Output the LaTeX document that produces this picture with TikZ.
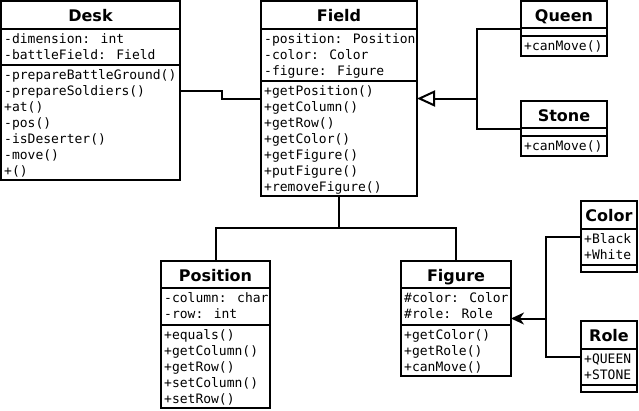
\documentclass[tikz,border=0pt]{standalone}
\usepackage{fontspec}
\setmainfont{DejaVu Sans}
\newfontfamily\umlmono{DejaVu Sans Mono}
\usetikzlibrary{arrows.meta}

\tikzset{
  line/.style={line width=2pt, draw=black},
  classbox/.style={draw=black, line width=2pt, rectangle, inner sep=0pt, outer sep=0pt, anchor=north west},
  classtitle/.style={font=\fontsize{16}{16}\selectfont\bfseries, anchor=base, inner sep=0pt},
  classrow/.style={font=\umlmono\fontsize{13}{16}\selectfont, anchor=base west, inner sep=0pt},
  inherit/.style={line, -{Triangle[open, length=18pt, width=16pt, fill=white]}},
  assoc/.style={line, -{Stealth[length=13pt, width=12pt, inset=4pt]}},
}

% class frame: name, x1, y1, x2, y2, title
\newcommand\umlframe[6]{%
  \node[classbox, minimum width={#4-#2}, minimum height={#5-#3}] (#1) at (#2,#3) {};
  \node[classtitle] (#1-title) at ({(#2+#4)/2}, #3+20) {#6};
}
% compartment separator: x1, x2, y
\newcommand\umlsep[3]{\draw[line] (#1,#3) -- (#2,#3);}
% rows of a compartment: prefix, x, first baseline, list
\newcommand\umlrows[4]{%
  \foreach \txt [count=\k from 0] in {#4}
    \node[classrow] (#1-\k) at (#2, {#3+16*\k}) {\txt};
}

\begin{document}
\begin{tikzpicture}[x=1pt, y=-1pt]
  \path[fill=white, use as bounding box] (0,0) rectangle (639,410);

  % Desk
  \umlframe{desk}{1}{1}{180}{180}{Desk}
  \umlsep{1}{180}{29}
  \umlsep{1}{180}{65}
  \umlrows{desk-a}{4}{43.5}{-dimension: int,-battleField: Field}
  \umlrows{desk-m}{4}{79.5}{-prepareBattleGround(),-prepareSoldiers(),+at(),-pos(),-isDeserter(),-move(),+()}

  % Field
  \umlframe{field}{261}{1}{417}{196}{Field}
  \umlsep{261}{417}{29}
  \umlsep{261}{417}{81}
  \umlrows{field-a}{264}{43.5}{-position: Position,-color: Color,-figure: Figure}
  \umlrows{field-m}{264}{95}{+getPosition(),+getColumn(),+getRow(),+getColor(),+getFigure(),+putFigure(),+removeFigure()}

  % Queen
  \umlframe{queen}{521}{1}{607}{56}{Queen}
  \umlsep{521}{607}{28}
  \umlsep{521}{607}{36}
  \umlrows{queen-m}{524}{50.5}{+canMove()}

  % Stone
  \umlframe{stone}{521}{101}{607}{156}{Stone}
  \umlsep{521}{607}{128}
  \umlsep{521}{607}{136}
  \umlrows{stone-m}{524}{150.5}{+canMove()}

  % Position
  \umlframe{position}{161}{261}{270}{408}{Position}
  \umlsep{161}{270}{288}
  \umlsep{161}{270}{325}
  \umlrows{position-a}{164}{302.5}{-column: char,-row: int}
  \umlrows{position-m}{164}{339.5}{+equals(),+getColumn(),+getRow(),+setColumn(),+setRow()}

  % Figure
  \umlframe{figure}{401}{261}{511}{376}{Figure}
  \umlsep{401}{511}{288}
  \umlsep{401}{511}{325}
  \umlrows{figure-a}{404}{302.5}{\#color: Color,\#role: Role}
  \umlrows{figure-m}{404}{339.5}{+getColor(),+getRole(),+canMove()}

  % Color
  \umlframe{color}{581}{201}{637}{272}{Color}
  \umlsep{581}{637}{229}
  \umlsep{581}{637}{265}
  \umlrows{color-a}{584}{243.5}{+Black,+White}

  % Role
  \umlframe{role}{581}{321}{637}{392}{Role}
  \umlsep{581}{637}{349}
  \umlsep{581}{637}{385}
  \umlrows{role-a}{584}{363.5}{+QUEEN,+STONE}

  % Desk -- Field
  \draw[line] (desk.east) -- ++(42,0) |- (field.west);

  % Queen, Stone generalise Field
  \draw[line] (queen.west) -- ++(-44,0) coordinate (trunk) |- (stone.west);
  \draw[inherit] (trunk |- field.east) -- (field.east);

  % Field -- Position, Figure
  \coordinate (split) at (339,228);
  \draw[line] (field.south) -- (split);
  \draw[line] (position.north) |- (split) -| (figure.north);

  % Color, Role -> Figure
  \draw[line] (color.west) -- ++(-35,0) coordinate (join) |- (role.west);
  \draw[assoc] (join |- figure.east) -- (figure.east);
\end{tikzpicture}
\end{document}
